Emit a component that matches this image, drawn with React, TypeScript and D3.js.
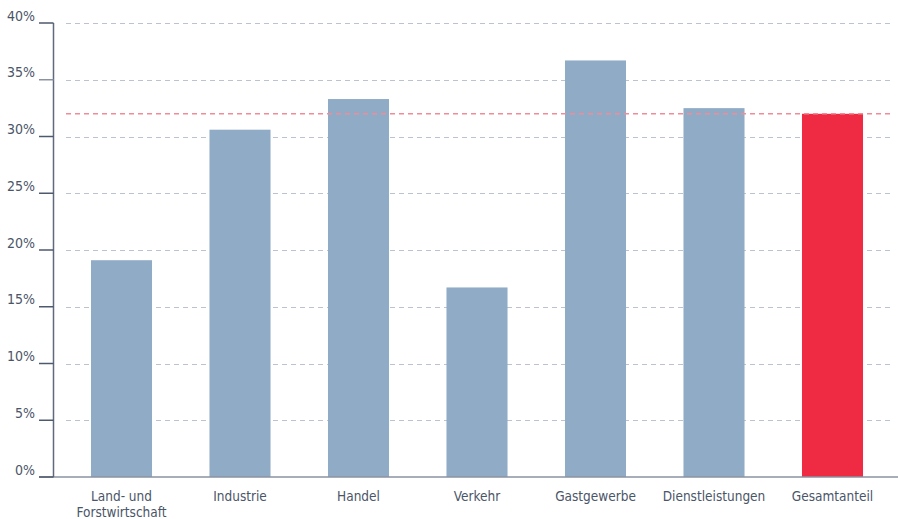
import React from "react";
import * as d3 from "d3";

const categories = [
  ["Land- und", "Forstwirtschaft"],
  ["Industrie"],
  ["Handel"],
  ["Verkehr"],
  ["Gastgewerbe"],
  ["Dienstleistungen"],
  ["Gesamtanteil"],
];
const values = [19.1, 30.6, 33.3, 16.7, 36.7, 32.5, 32.0];
const highlight = [false, false, false, false, false, false, true];
const referenceValue = 32.0;
const yTicks = [0, 5, 10, 15, 20, 25, 30, 35, 40];

const W = 898;
const H = 519;
const FONT = "'DejaVu Sans Condensed', 'DejaVu Sans', Roboto, sans-serif";

export default function App() {
  const y = d3.scaleLinear().domain([0, 40]).range([477, 23]);
  const x = d3
    .scaleBand<number>()
    .domain(d3.range(categories.length))
    .range([62.25, 891.75])
    .paddingInner(0.485)
    .paddingOuter(0.2425);
  const axisX = 53.5;

  return (
    <svg
      width={W}
      height={H}
      style={{ position: "absolute", left: 0, top: 0, display: "block" }}
    >
      <rect width={W} height={H} fill="#fff" />
      {/* gridlines */}
      {yTicks
        .filter((t) => t > 0)
        .map((t) => (
          <line
            key={t}
            x1={66}
            x2={894}
            y1={Math.round(y(t)) + 0.5}
            y2={Math.round(y(t)) + 0.5}
            stroke="#bcc3d0"
            strokeWidth={1}
            strokeDasharray="5,4"
          />
        ))}
      {/* bars */}
      {values.map((v, i) => (
        <rect
          key={i}
          x={x(i)}
          y={y(v)}
          width={x.bandwidth()}
          height={y(0) - y(v)}
          fill={highlight[i] ? "#ee2b43" : "#90abc6"}
        />
      ))}
      {/* reference line */}
      <line
        x1={66}
        x2={894}
        y1={y(referenceValue)}
        y2={y(referenceValue)}
        stroke="#f28b97"
        strokeWidth={1.5}
        strokeDasharray="5,4"
      />
      {/* baseline */}
      <line x1={39} x2={898} y1={y(0)} y2={y(0)} stroke="#8a93a2" strokeWidth={1.5} />
      {/* y axis */}
      <line x1={axisX} x2={axisX} y1={y(40)} y2={y(0)} stroke="#5f6a7d" strokeWidth={1.5} />
      {yTicks.map((t) => (
        <g key={t}>
          <line
            x1={39}
            x2={axisX}
            y1={y(t)}
            y2={y(t)}
            stroke={t === 35 ? "#8a93a2" : "#4e596d"}
            strokeWidth={1.5}
          />
          <text
            x={35}
            y={y(t) - 2.5}
            textAnchor="end"
            fontFamily={FONT}
            fontSize={14}
            fill="#4a5568"
          >
            {t}%
          </text>
        </g>
      ))}
      {/* x labels */}
      {categories.map((lines, i) => (
        <text
          key={i}
          x={(x(i) as number) + x.bandwidth() / 2}
          y={501}
          textAnchor="middle"
          fontFamily={FONT}
          fontSize={13.5}
          fill="#4a5568"
        >
          {lines.map((l, j) => (
            <tspan key={j} x={(x(i) as number) + x.bandwidth() / 2} dy={j === 0 ? 0 : 15.5}>
              {l}
            </tspan>
          ))}
        </text>
      ))}
    </svg>
  );
}
